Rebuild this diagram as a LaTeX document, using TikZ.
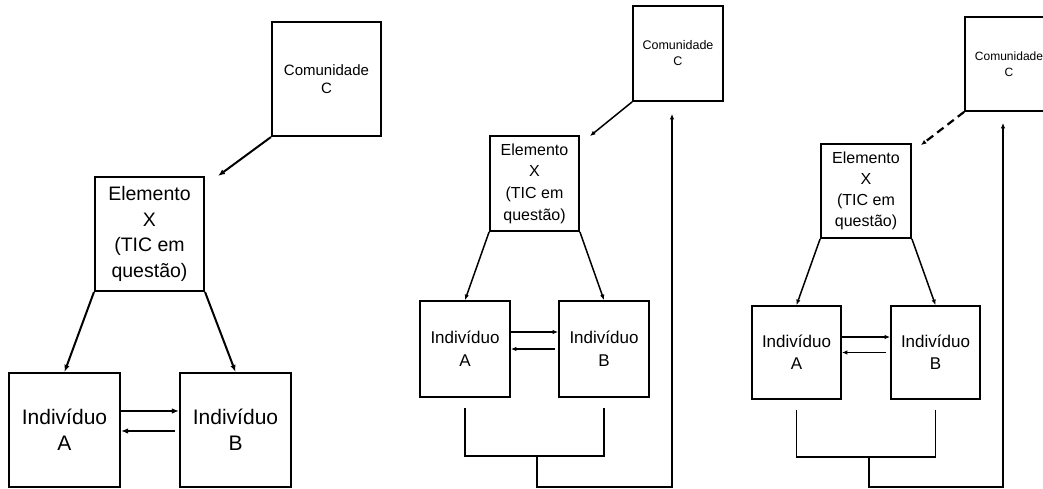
\documentclass[tikz,border=0pt]{standalone}
\usepackage{fontspec}
\setmainfont{Liberation Sans}
\usetikzlibrary{arrows.meta}

\begin{document}
\begin{tikzpicture}[x=1pt,y=-1pt,
        caixa/.style={draw,align=center,inner sep=0pt},
        seta/.style={-{Latex[length=7pt,width=5.5pt]}},
        setinha/.style={-{Latex[length=5.5pt,width=4.5pt]}}]
        \clip (0,0) rectangle (1043,488);

        % Figura 1
        \begin{scope}[every node/.style={caixa,line width=2.1pt}]
            \node[minimum width=109pt,minimum height=114pt,font=\fontsize{15}{18.5}\selectfont] (C1) at (326.5,79) {Comunidade\\C};
            \node[minimum width=109pt,minimum height=114pt,font=\fontsize{19.5}{25.5}\selectfont] (X1) at (149.5,234) {Elemento\\X\\(TIC em\\questão)};
            \node[minimum width=111pt,minimum height=114pt,font=\fontsize{21}{26}\selectfont] (A1) at (64.5,430) {Indivíduo\\A};
            \node[minimum width=111pt,minimum height=114pt,font=\fontsize{21}{26}\selectfont] (B1) at (235.5,430) {Indivíduo\\B};
        \end{scope}

        \begin{scope}[line width=2pt]
            \draw[seta] (C1.south west) -- ([xshift=13pt]X1.north east);
            \draw[seta] (X1.south west) -- (A1.north);
            \draw[seta] (X1.south east) -- (B1.north);
            \draw[seta] ([yshift=19pt]A1.east) -- ([yshift=19pt]B1.west);
            \draw[seta] ([xshift=-4pt,yshift=-1pt]B1.west) -- ([yshift=-1pt]A1.east);
        \end{scope}

        % Figura 2
        \begin{scope}[every node/.style={caixa,line width=1.8pt}]
            \node[minimum width=90pt,minimum height=95pt,font=\fontsize{12.5}{16}\selectfont] (C2) at (678,53.5) {Comunidade\\C};
            \node[minimum width=89pt,minimum height=95pt,font=\fontsize{16}{21.7}\selectfont] (X2) at (534.5,183.5) {Elemento\\X\\(TIC em\\questão)};
            \node[minimum width=90pt,minimum height=96pt,font=\fontsize{17}{22.7}\selectfont] (A2) at (465,349) {Indivíduo\\A};
            \node[minimum width=90pt,minimum height=96pt,font=\fontsize{17}{22.7}\selectfont] (B2) at (604,349) {Indivíduo\\B};
        \end{scope}

        \coordinate (M2) at (537,456);
        \coordinate (F2) at (537,487);

        \begin{scope}[line width=1.5pt]
            \draw[setinha] (C2.south west) -- ([xshift=10pt,yshift=-1pt]X2.north east);
            \draw[setinha] (X2.south west) -- (A2.north);
            \draw[setinha] (X2.south east) -- (B2.north);
            \draw[setinha] ([yshift=17pt]A2.east) -- ([yshift=17pt]B2.west);
            \draw[setinha] ([xshift=-3pt]B2.west) -- (A2.east);
            \draw ([yshift=-10pt]A2.south) |- (M2) -| ([yshift=-10pt]B2.south);
            \draw[setinha] (M2) -- (F2) -| ([xshift=-6pt,yshift=-12pt]C2.south);
        \end{scope}

        % Figura 3
        \begin{scope}[every node/.style={caixa,line width=1.8pt}]
            \node[minimum width=88pt,minimum height=94pt,font=\fontsize{12}{16}\selectfont] (C3) at (1009,64) {Comunidade\\C};
            \node[minimum width=90pt,minimum height=94pt,font=\fontsize{16}{21}\selectfont] (X3) at (866,191) {Elemento\\X\\(TIC em\\questão)};
            \node[minimum width=89pt,minimum height=93pt,font=\fontsize{17}{22}\selectfont] (A3) at (796.5,352.5) {Indivíduo\\A};
            \node[minimum width=89pt,minimum height=93pt,font=\fontsize{17}{22}\selectfont] (B3) at (935.5,352.5) {Indivíduo\\B};
        \end{scope}

        \coordinate (M3) at (869,457);
        \coordinate (F3) at (869,487);

        \begin{scope}[line width=1.5pt]
            \draw[setinha,line width=2.2pt,dash pattern=on 8pt off 5pt] (C3.south west) -- ([xshift=9pt,yshift=-2pt]X3.north east);
            \draw[setinha] (X3.south west) -- (A3.north);
            \draw[setinha] (X3.south east) -- (B3.north);
            \draw[setinha] ([yshift=15.5pt]A3.east) -- ([yshift=15.5pt]B3.west);
            \draw[setinha] ([xshift=-4pt]B3.west) -- (A3.east);
            \draw ([yshift=-10pt]A3.south) |- (M3) -| ([yshift=-10pt]B3.south);
            \draw[setinha] (M3) -- (F3) -| ([xshift=-6pt,yshift=-11pt]C3.south);
        \end{scope}
    \end{tikzpicture}
\end{document}
